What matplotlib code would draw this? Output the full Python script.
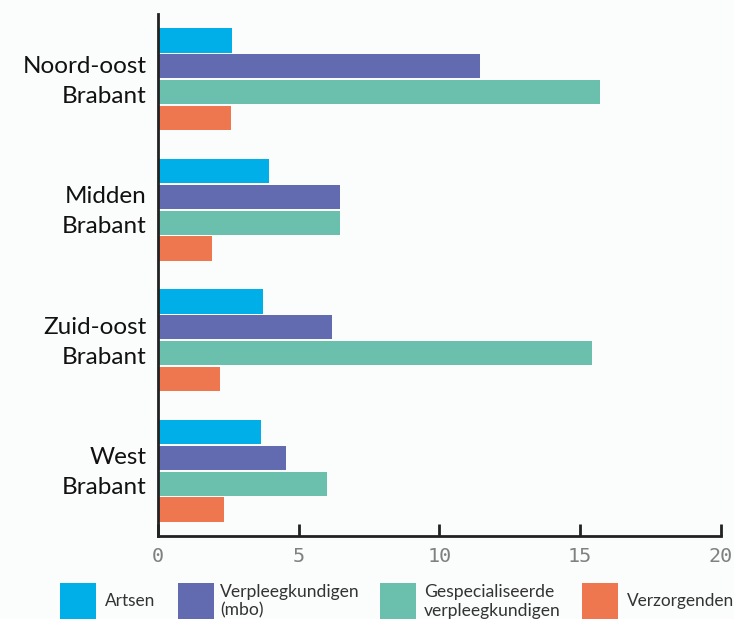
import matplotlib
matplotlib.use("Agg")
import matplotlib.pyplot as plt
import matplotlib.transforms as mtransforms
import numpy as np
from matplotlib.patches import Rectangle

categories = ["Noord-oost\nBrabant", "Midden\nBrabant", "Zuid-oost\nBrabant", "West\nBrabant"]
series_names = ["Artsen", "Verpleegkundigen\n(mbo)", "Gespecialiseerde\nverpleegkundigen", "Verzorgenden"]
artsen = [2.63, 3.94, 3.73, 3.66]
verpleeg_mbo = [11.44, 6.47, 6.18, 4.55]
gespecialiseerd = [15.70, 6.47, 15.42, 6.00]
verzorgenden = [2.59, 1.92, 2.20, 2.34]
xticks = [0, 5, 10, 15, 20]

colors = ["#00aee8", "#626bb0", "#6bbfad", "#ee7750"]
bg = "#fbfcfc"

fig = plt.figure(figsize=(7.34, 6.19), dpi=100, facecolor=bg)
ax = fig.add_axes([158/734, 1-536/619, (721-158)/734, (536-14)/619], facecolor=bg)

y = np.arange(len(categories))
bar_h = 0.186
step = 0.198
for i, (vals, c) in enumerate(zip([artsen, verpleeg_mbo, gespecialiseerd, verzorgenden], colors)):
    ax.barh(y + (i - 1.5) * step, vals, height=bar_h, color=c, zorder=2)

ax.set_ylim(3.5, -0.5)
ax.set_xlim(0, 20)
ax.set_yticks(y)
ax.set_yticklabels(categories, fontsize=17.5, family="Lato", color="#111111",
                   linespacing=1.52)
ax.tick_params(axis="y", length=0, pad=8)
offset = mtransforms.ScaledTranslation(0, 4.5/100, fig.dpi_scale_trans)
for lab in ax.get_yticklabels():
    lab.set_transform(lab.get_transform() + offset)
ax.set_xticks(xticks)
ax.set_xticklabels([str(t) for t in xticks], family="DejaVu Sans Mono", fontsize=14.5, color="#808080")
ax.tick_params(axis="x", direction="in", length=9, width=2, color="#222222", pad=8)

for s in ["top", "right"]:
    ax.spines[s].set_visible(False)
for s in ["left", "bottom"]:
    ax.spines[s].set_linewidth(2)
    ax.spines[s].set_color("#222222")

# Legend (manual)
W, H = 734, 619
sq_x = [60, 178, 380, 582]
txt_x = [105, 220, 424, 627]
for sx, tx, c, name in zip(sq_x, txt_x, colors, series_names):
    fig.patches.append(Rectangle((sx/W, 0), 36/W, (619-583)/H, transform=fig.transFigure,
                                 facecolor=c, edgecolor="none"))
    if "\n" in name:
        fig.text(tx/W, 1-584/H, name, ha="left", va="top", fontsize=12.6,
                 family="Lato", color="#333333", linespacing=1.2)
    else:
        fig.text(tx/W, 1-601/H, name, ha="left", va="center", fontsize=12.4,
                 family="Lato", color="#333333")

fig.savefig("out.png", dpi=100, facecolor=bg)
